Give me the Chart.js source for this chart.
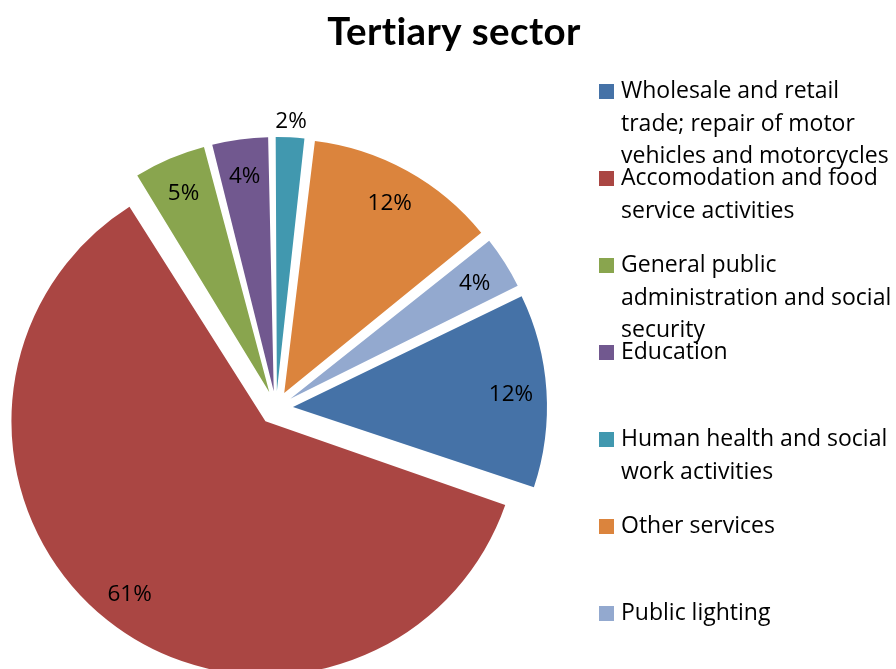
<!DOCTYPE html>
<html>
<head>
<meta charset="utf-8">
<script src="https://cdn.jsdelivr.net/npm/chart.js@4.4.1/dist/chart.umd.min.js"></script>
<style>
  html, body { margin: 0; padding: 0; background: #fff; }
  #place__graph { display: block; }
</style>
</head>
<body>
<canvas id="place__graph" width="896" height="669"></canvas>
<script>
// data
const chartTitle = 'Tertiary sector'
const categories = [
    ['Wholesale and retail', 'trade; repair of motor', 'vehicles and motorcycles'],
    ['Accomodation and food', 'service activities'],
    ['General public', 'administration and social', 'security'],
    ['Education'],
    ['Human health and social', 'work activities'],
    ['Other services'],
    ['Public lighting']
]
const shares = [12.4, 61.0, 4.8, 3.8, 2.1, 12.3, 3.6]
const colors = ['#4572A7', '#AA4643', '#89A54E', '#71588F', '#4198AF', '#DB843D', '#93A9CF']

const FONT = '"Open Sans", Lato, sans-serif'
const R = 254        // pie radius
const explode = 17   // how far every slice is pulled out

// chart.js moves arcs by offset/4 and grows the radius a bit, undo that
const keepRadius = {
    id: 'keepRadius',
    afterDatasetUpdate(chart, args) {
        args.meta.data.forEach(arc => {
            const c = arc.endAngle - arc.startAngle
            arc.outerRadius = R - explode * (1 - Math.sin(Math.min(Math.PI, c)))
        })
    }
}

const extras = {
    id: 'extras',
    afterDraw(chart) {
        const ctx = chart.ctx
        const total = shares.reduce((a, b) => a + b, 0)
        ctx.save()
        ctx.fillStyle = '#000'

        // percent labels
        ctx.font = '22.5px ' + FONT
        ctx.textAlign = 'center'
        ctx.textBaseline = 'middle'
        chart.getDatasetMeta(0).data.forEach((arc, i) => {
            const pct = Math.round(shares[i] / total * 100)
            const mid = (arc.startAngle + arc.endAngle) / 2
            const dist = explode + (pct < 3 ? R + 18 : R * 0.86)
            ctx.fillText(pct + '%', arc.x + Math.cos(mid) * dist, arc.y + Math.sin(mid) * dist + 2)
        })

        // title
        ctx.font = 'bold 38.5px Lato, sans-serif'
        ctx.letterSpacing = '0.4px'
        ctx.textBaseline = 'alphabetic'
        ctx.fillText(chartTitle, 454, 45)
        ctx.letterSpacing = '0px'

        // legend
        ctx.textAlign = 'left'
        ctx.font = '23px ' + FONT
        categories.forEach((lines, i) => {
            const base = 98 + 87 * i
            ctx.fillStyle = colors[i]
            ctx.fillRect(599, base - 14, 15, 15)
            ctx.fillStyle = '#000'
            lines.forEach((t, j) => ctx.fillText(t, 621, base + 32.5 * j))
        })
        ctx.restore()
    }
}

const ctx = document.getElementById('place__graph').getContext('2d')
const chart = new Chart(ctx, {
    type: 'pie',
    data: {
        labels: categories,
        datasets: [{
            data: shares,
            backgroundColor: colors,
            borderWidth: 0,
            offset: explode * 4,
            clip: false
        }]
    },
    options: {
        responsive: false,
        animation: false,
        rotation: 64,
        radius: R,
        layout: { padding: { left: 0, right: 344, top: 147, bottom: 0 } },
        plugins: {
            legend: { display: false },
            tooltip: { enabled: false },
            title: { display: false }
        }
    },
    plugins: [keepRadius, extras]
})
</script>
</body>
</html>
